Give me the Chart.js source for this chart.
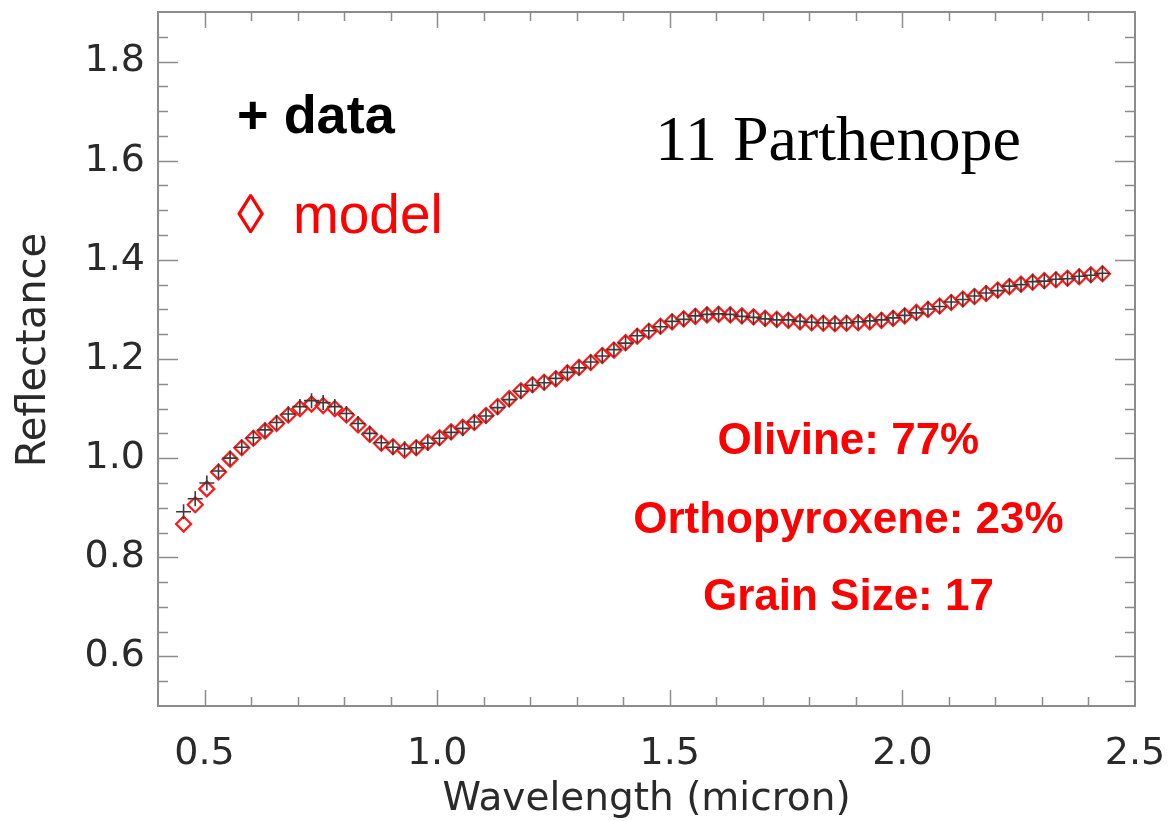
<!DOCTYPE html>
<html>
<head>
<meta charset="utf-8">
<script src="https://cdn.jsdelivr.net/npm/chart.js@4/dist/chart.umd.min.js"></script>
<style>
  html, body { margin: 0; padding: 0; background: #ffffff; }
  #wrap { width: 1168px; height: 821px; }
</style>
</head>
<body>
<div id="wrap"><canvas id="c" width="1168" height="821"></canvas></div>
<script>
// Wavelength grid (micron)
const wavelength = [
  0.455,0.480,0.505,0.530,0.555,0.580,0.605,0.630,0.655,0.680,
  0.705,0.730,0.755,0.780,0.805,0.830,0.855,0.880,0.905,0.930,
  0.955,0.980,1.005,1.030,1.055,1.080,1.105,1.130,1.155,1.180,
  1.205,1.230,1.255,1.280,1.305,1.330,1.355,1.380,1.405,1.430,
  1.455,1.480,1.505,1.530,1.555,1.580,1.605,1.630,1.655,1.680,
  1.705,1.730,1.755,1.780,1.805,1.830,1.855,1.880,1.905,1.930,
  1.955,1.980,2.005,2.030,2.055,2.080,2.105,2.130,2.155,2.180,
  2.205,2.230,2.255,2.280,2.305,2.330,2.355,2.380,2.405,2.430
];

// Measured reflectance spectrum
const dataReflectance = [
  0.892,0.918,0.950,0.974,1.000,1.022,1.041,1.057,1.072,1.089,
  1.104,1.116,1.112,1.104,1.090,1.070,1.050,1.031,1.022,1.019,
  1.021,1.030,1.040,1.052,1.060,1.073,1.085,1.102,1.118,1.135,
  1.147,1.152,1.161,1.173,1.182,1.194,1.206,1.219,1.232,1.247,
  1.257,1.265,1.276,1.280,1.287,1.290,1.291,1.290,1.286,1.284,
  1.281,1.279,1.279,1.276,1.274,1.273,1.272,1.273,1.275,1.277,
  1.279,1.283,1.288,1.293,1.301,1.306,1.315,1.320,1.327,1.333,
  1.338,1.347,1.350,1.356,1.357,1.361,1.362,1.367,1.369,1.373
];

// Mixing-model reflectance
const modelReflectance = [
  0.867,0.906,0.938,0.972,0.998,1.021,1.040,1.055,1.070,1.087,
  1.100,1.109,1.106,1.100,1.087,1.067,1.048,1.030,1.023,1.016,
  1.021,1.032,1.041,1.053,1.062,1.072,1.086,1.104,1.120,1.136,
  1.148,1.153,1.160,1.172,1.183,1.193,1.207,1.218,1.233,1.246,
  1.256,1.266,1.275,1.281,1.286,1.289,1.290,1.289,1.287,1.285,
  1.282,1.280,1.278,1.275,1.273,1.272,1.271,1.272,1.273,1.275,
  1.278,1.282,1.287,1.294,1.300,1.307,1.314,1.321,1.326,1.332,
  1.339,1.346,1.351,1.355,1.358,1.360,1.363,1.366,1.370,1.372
];

// Axis tick labels
const xTickValues = [0.5, 1.0, 1.5, 2.0, 2.5];
const yTickValues = [0.6, 0.8, 1.0, 1.2, 1.4, 1.6, 1.8];

// Annotation text
const targetName = '11 Parthenope';
const fitLines = ['Olivine: 77%', 'Orthopyroxene: 23%', 'Grain Size: 17'];

const X_MIN = 0.4, X_MAX = 2.5, Y_MIN = 0.5, Y_MAX = 1.9;
const X_MINOR_STEP = 0.1, Y_MINOR_STEP = 0.05;

const tickFont = { family: '"DejaVu Sans", sans-serif', size: 38 };
const inkColor = '#2a2a2a';
const frameColor = '#8c8c8c';

function toPoints(xs, ys) {
  return xs.map((x, i) => ({ x: x, y: ys[i] }));
}

// IDL-style frame: box with inward major/minor ticks on all sides
const framePlugin = {
  id: 'idlFrame',
  afterDatasetsDraw(chart) {
    const { ctx, chartArea: a, scales: { x, y } } = chart;
    ctx.save();
    ctx.strokeStyle = frameColor;
    ctx.lineWidth = 1.5;
    const tick = (x1, y1, x2, y2) => {
      ctx.beginPath(); ctx.moveTo(x1, y1); ctx.lineTo(x2, y2); ctx.stroke();
    };
    const xMajorLen = 16, xMinorLen = 9, yMajorLen = 20, yMinorLen = 10;
    const nx = Math.round((X_MAX - X_MIN) / X_MINOR_STEP);
    for (let i = 1; i < nx; i++) {
      const v = +(X_MIN + i * X_MINOR_STEP).toFixed(3);
      const isMajor = xTickValues.some(t => Math.abs(t - v) < 1e-6);
      const len = isMajor ? xMajorLen : xMinorLen;
      const px = Math.round(x.getPixelForValue(v)) + 0.5;
      tick(px, a.bottom, px, a.bottom - len);
      tick(px, a.top, px, a.top + len);
    }
    const ny = Math.round((Y_MAX - Y_MIN) / Y_MINOR_STEP);
    for (let i = 1; i < ny; i++) {
      const v = +(Y_MIN + i * Y_MINOR_STEP).toFixed(3);
      const isMajor = yTickValues.some(t => Math.abs(t - v) < 1e-6);
      const len = isMajor ? yMajorLen : yMinorLen;
      const py = Math.round(y.getPixelForValue(v)) + 0.5;
      tick(a.left, py, a.left + len, py);
      tick(a.right, py, a.right - len, py);
    }
    ctx.lineWidth = 2;
    ctx.strokeRect(a.left, a.top, a.right - a.left, a.bottom - a.top);
    ctx.restore();
  }
};

// Legend and fit-result annotations, placed in data coordinates
const notesPlugin = {
  id: 'notes',
  afterDraw(chart) {
    const { ctx, chartArea: a, scales: { x, y } } = chart;
    ctx.save();
    ctx.textBaseline = 'alphabetic';

    ctx.textAlign = 'left';
    ctx.fillStyle = '#000000';
    ctx.font = 'bold 54px "Liberation Sans", Arial, sans-serif';
    ctx.fillText('+ data', x.getPixelForValue(0.570), y.getPixelForValue(1.656));

    ctx.fillStyle = '#ff0000';
    ctx.font = '55px "Liberation Sans", Arial, sans-serif';
    ctx.fillText('\u25CA', x.getPixelForValue(0.570), y.getPixelForValue(1.455));
    ctx.fillText('model', x.getPixelForValue(0.690), y.getPixelForValue(1.455));

    ctx.fillStyle = '#000000';
    ctx.font = '64px "Liberation Serif", "Times New Roman", serif';
    ctx.fillText(targetName, x.getPixelForValue(1.469), y.getPixelForValue(1.602));

    ctx.textAlign = 'center';
    ctx.fillStyle = '#ff0000';
    ctx.font = 'bold 44px "Liberation Sans", Arial, sans-serif';
    const baselines = [1.009, 0.850, 0.694];
    fitLines.forEach((t, i) => {
      ctx.fillText(t, x.getPixelForValue(1.884), y.getPixelForValue(baselines[i]));
    });

    // vertical axis title
    ctx.save();
    ctx.translate(35, y.getPixelForValue(1.218));
    ctx.rotate(-Math.PI / 2);
    ctx.textAlign = 'center';
    ctx.textBaseline = 'middle';
    ctx.fillStyle = inkColor;
    ctx.font = '40px "DejaVu Sans", sans-serif';
    ctx.fillText('Reflectance', 0, 0);
    ctx.restore();

    ctx.restore();
  }
};

new Chart(document.getElementById('c'), {
  type: 'scatter',
  data: {
    datasets: [
      {
        label: 'data',
        data: toPoints(wavelength, dataReflectance),
        pointStyle: 'cross',
        pointRadius: 7.5,
        borderColor: '#3a3a3a',
        borderWidth: 1.6,
        backgroundColor: 'transparent'
      },
      {
        label: 'model',
        data: toPoints(wavelength, modelReflectance),
        pointStyle: 'rectRot',
        pointRadius: 7.5,
        borderColor: '#ff1a1a',
        borderWidth: 2.2,
        backgroundColor: 'transparent'
      }
    ]
  },
  options: {
    responsive: false,
    animation: false,
    devicePixelRatio: 1,
    layout: { padding: { top: 12, right: 33, left: 0, bottom: 0 } },
    plugins: { legend: { display: false }, tooltip: { enabled: false } },
    scales: {
      x: {
        type: 'linear',
        min: X_MIN,
        max: X_MAX,
        afterBuildTicks: (axis) => { axis.ticks = xTickValues.map(v => ({ value: v })); },
        afterFit: (axis) => { axis.height = 115; axis.paddingLeft = 0; axis.paddingRight = 0; },
        grid: { display: false, drawTicks: false },
        border: { display: false },
        ticks: {
          font: tickFont,
          color: inkColor,
          padding: 25,
          maxRotation: 0,
          autoSkip: false,
          callback: (v) => Number(v).toFixed(1)
        },
        title: {
          display: true,
          text: 'Wavelength (micron)',
          font: { family: '"DejaVu Sans", sans-serif', size: 39, lineHeight: 1.1 },
          color: inkColor,
          padding: { top: 0, bottom: 0 }
        }
      },
      y: {
        type: 'linear',
        min: Y_MIN,
        max: Y_MAX,
        afterBuildTicks: (axis) => { axis.ticks = yTickValues.map(v => ({ value: v })); },
        afterFit: (axis) => { axis.width = 158; axis.paddingTop = 0; axis.paddingBottom = 0; },
        grid: { display: false, drawTicks: false },
        border: { display: false },
        ticks: {
          font: tickFont,
          color: inkColor,
          padding: 13,
          autoSkip: false,
          callback: (v) => Number(v).toFixed(1)
        },
        title: { display: false }
      }
    }
  },
  plugins: [framePlugin, notesPlugin]
});
</script>
</body>
</html>
